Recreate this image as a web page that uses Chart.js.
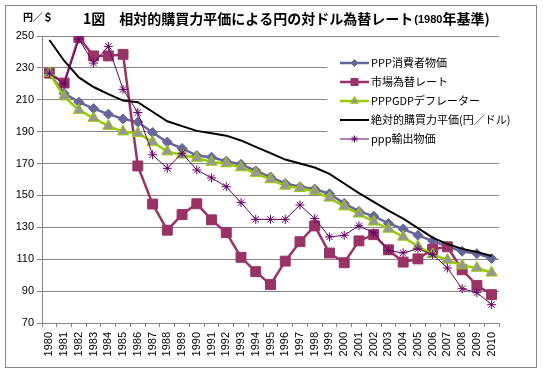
<!DOCTYPE html>
<html>
<head>
<meta charset="utf-8">
<script src="https://cdn.jsdelivr.net/npm/chart.js@4.4.1/dist/chart.umd.min.js"></script>
<style>
html,body{margin:0;padding:0;background:#fff;}
canvas{display:block;}
</style>
</head>
<body>
<canvas id="c" width="544" height="375"></canvas>
<script>
const years = ['1980','1981','1982','1983','1984','1985','1986','1987','1988','1989','1990','1991','1992','1993','1994','1995','1996','1997','1998','1999','2000','2001','2002','2003','2004','2005','2006','2007','2008','2009','2010'];
const pppCPI = [226.7,214,208.5,204.5,201,198,196,189.5,183.5,179.5,175,174,171.5,169.5,165.5,161.5,157.5,155.5,154,151,145,140,137,132.5,129,125,121.5,118,115,113.5,110.5];
const marketRate = [226.7,220.5,249.1,237.5,237.5,238.5,168.5,144.6,128.2,138.0,144.8,134.7,126.7,111.2,102.2,94.1,108.8,121.0,130.9,113.9,107.8,121.5,125.4,115.9,108.2,110.2,116.3,117.8,103.4,93.6,87.8];
const pppGDP = [226.7,212,203.5,198.5,193.5,190,189,183.5,177.5,175.5,173.5,171,170,167.5,164,160,156,154.5,152.5,148.5,143,138.5,133.5,129,124,118,113,109.5,106,104.5,101.5];
const absolutePPP = [247.5,234.5,224,218,213.5,209.5,208.5,202.5,196.5,193.5,190.5,189,187.5,184.5,180.5,176.5,172.5,170,167.5,163.5,157.5,151.5,146,140.5,135.5,129.5,123.5,119.5,116.5,114.5,112];
const pppExport = [226.7,220,248,233,243.5,216.5,202,175.5,167,176.5,166,161,155.5,145.5,135,135,135,144,135.5,124,125,131,126.5,115.5,114,116.5,113,104.5,91.5,89,81.5];
const seriesNames = ['PPP消費者物価','市場為替レート','PPPGDPデフレーター','絶対的購買力平価(円／ドル)','ppp輸出物価'];
const yTicks = [70,90,110,130,150,170,190,210,230,250];
const titleMain = '1図　相対的購買力平価による円の対ドル為替レート';
const titleSmall = '(1980';
const titleEnd = '年基準)';
const unitLabel = '円／＄';

const CJK = '"Noto Sans CJK JP", sans-serif';
const LAT = '"Liberation Sans", Arial, sans-serif';

const datasets = [
  {label: seriesNames[0], data: pppCPI, borderColor:'#666699', backgroundColor:'#666699', borderWidth:2.5, pointStyle:'rectRot', pointRadius:5, pointBorderWidth:1, order:5},
  {label: seriesNames[1], data: marketRate, borderColor:'#993366', backgroundColor:'#993366', borderWidth:2.5, pointStyle:'rect', pointRadius:7, pointBorderWidth:1, order:4},
  {label: seriesNames[2], data: pppGDP, borderColor:'#99CC00', backgroundColor:'#969696', pointBorderColor:'#99CC00', borderWidth:2.5, pointStyle:'triangle', pointRadius:6.5, pointBorderWidth:1, order:3},
  {label: seriesNames[3], data: absolutePPP, borderColor:'#000000', backgroundColor:'#000000', borderWidth:2, pointRadius:0, order:2},
  {label: seriesNames[4], data: pppExport, borderColor:'#660066', backgroundColor:'#660066', borderWidth:1, pointStyle:'star', pointRadius:4.5, pointBorderWidth:1, order:1}
];
datasets.forEach(d => { d.tension = 0; d.fill = false; });

const decor = {
  id: 'decor',
  afterDraw(chart) {
    const ctx = chart.ctx;
    ctx.save();
    // outer frame
    ctx.strokeStyle = '#888888';
    ctx.lineWidth = 1;
    ctx.strokeRect(5.5, 5.5, 531, 362);
    // unit label
    ctx.fillStyle = '#000';
    ctx.textBaseline = 'middle';
    ctx.textAlign = 'left';
    ctx.font = 'bold 10px ' + CJK;
    ctx.fillText(unitLabel, 23, 17);
    // title
    let x = 83, y = 19;
    ctx.font = 'bold 14px ' + CJK;
    ctx.fillText(titleMain, x, y);
    x += ctx.measureText(titleMain).width;
    ctx.font = 'bold 11px ' + LAT;
    ctx.fillText(titleSmall, x + 1, y + 1);
    x += ctx.measureText(titleSmall).width + 1;
    ctx.font = 'bold 14px ' + CJK;
    ctx.fillText(titleEnd, x, y);
    // legend
    ctx.fillStyle = '#ffffff';
    ctx.fillRect(327, 49, 185, 102);
    const rows = [63, 82, 101, 120, 139];
    chart.data.datasets.forEach((ds, i) => {
      const ry = rows[i];
      ctx.strokeStyle = ds.borderColor;
      ctx.lineWidth = ds.borderWidth;
      ctx.beginPath();
      ctx.moveTo(340, ry);
      ctx.lineTo(369, ry);
      ctx.stroke();
      if (ds.pointRadius > 0) {
        ctx.fillStyle = ds.backgroundColor;
        ctx.strokeStyle = ds.pointBorderColor || ds.borderColor;
        ctx.lineWidth = 1;
        Chart.helpers.drawPoint(ctx, {pointStyle: ds.pointStyle, radius: ds.pointStyle === 'rect' ? 5 : ds.pointStyle === 'triangle' ? 4.5 : 3.5, borderWidth: 1}, 354.5, ry);
      }
      ctx.fillStyle = '#000';
      ctx.font = '11px ' + CJK;
      ctx.textAlign = 'left';
      ctx.textBaseline = 'middle';
      ctx.fillText(ds.label, 371, ry);
    });
    ctx.restore();
  }
};

new Chart(document.getElementById('c'), {
  type: 'line',
  data: {labels: years, datasets: datasets},
  plugins: [decor],
  options: {
    responsive: false,
    animation: false,
    devicePixelRatio: 1,
    layout: {padding: {left: 0, top: 36, right: 45, bottom: 0}},
    plugins: {legend: {display: false}, tooltip: {enabled: false}, title: {display: false}},
    scales: {
      x: {
        type: 'category',
        offset: true,
        grid: {offset: true, drawOnChartArea: false, drawTicks: true, tickLength: 4, color: '#868686'},
        border: {color: '#868686'},
        ticks: {minRotation: 90, maxRotation: 90, autoSkip: false, padding: 5, color: '#000', font: {family: LAT, size: 11}},
        afterFit(s) { s.height = 52; }
      },
      y: {
        min: 70, max: 250,
        afterBuildTicks(s) { s.ticks = yTicks.map(v => ({value: v})); },
        grid: {color: '#868686', tickLength: 5},
        border: {color: '#868686'},
        ticks: {padding: 3, color: '#000', font: {family: LAT, size: 11}},
        afterFit(s) { s.width = 42; }
      }
    }
  }
});
</script>
</body>
</html>
